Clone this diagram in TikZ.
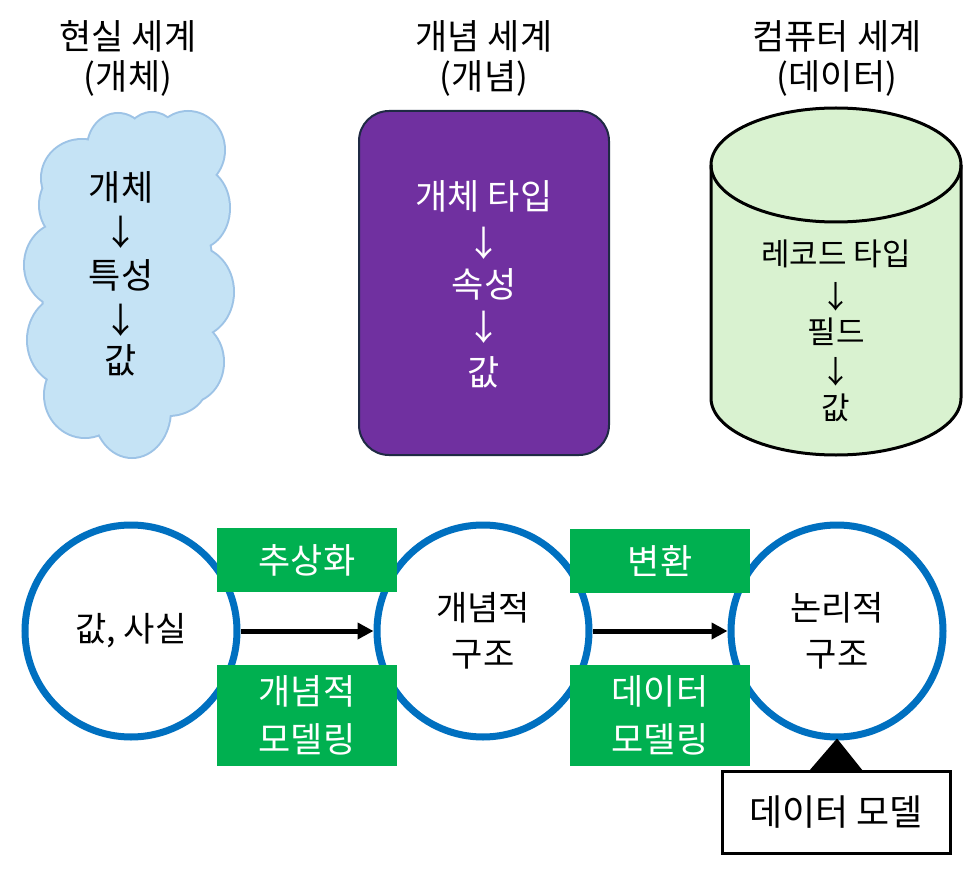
\documentclass[tikz,border=0pt]{standalone}
\usepackage{fontspec}
\setmainfont{Noto Sans CJK KR}
\usetikzlibrary{arrows.meta,calc}
\definecolor{cloudfill}{HTML}{C5E3F5}
\definecolor{cloudline}{HTML}{9DC3E6}
\definecolor{conceptfill}{HTML}{7030A0}
\definecolor{conceptline}{HTML}{1F2A44}
\definecolor{cylfill}{HTML}{D9F2D0}
\definecolor{ringblue}{HTML}{0070C0}
\definecolor{boxgreen}{HTML}{00B050}
\tikzset{
  title/.style={align=center,font=\fontsize{35}{40}\selectfont,inner sep=0},
  body/.style={font=\fontsize{35}{40}\selectfont,inner sep=0},
  cylbody/.style={font=\fontsize{31}{36}\selectfont,inner sep=0},
  ring/.style={circle,draw=ringblue,line width=7,fill=white,minimum size=212,inner sep=0,font=\fontsize{34}{46}\selectfont,align=center},
  gbox/.style={fill=boxgreen,text=white,minimum width=180,inner sep=0,align=center,font=\fontsize{35}{48}\selectfont},
  flow/.style={-{Triangle[length=16,width=16]},line width=5},
}
\newcommand{\cloudparts}{82/178/40/38,118/148/30/34,152/145/28/32,188/150/36/38,197/208/32/40,193/292/40/45,188/362/35/40,168/385/38/30,132/410/38/47,85/395/40/42,68/340/40/45,63/265/38/42,75/205/35/38,128/285/85/140}
\begin{document}
\begin{tikzpicture}[x=1pt,y=-1pt]
\useasboundingbox[fill=white] (0,0) rectangle (972,869);
% titles
\node[title] (t1) at (128,58) {현실 세계\\(개체)};
\node[title] (t2) at (484,58) {개념 세계\\(개념)};
\node[title] (t3) at (837,58) {컴퓨터 세계\\(데이터)};
% cloud
\foreach \cx/\cy/\rx/\ry in \cloudparts
  \draw[cloudline,line width=4] (\cx,\cy) ellipse[x radius=\rx,y radius=\ry];
\foreach \cx/\cy/\rx/\ry in \cloudparts
  \fill[cloudfill] (\cx,\cy) ellipse[x radius=\rx,y radius=\ry];
\node[body] (c1a) at (121,187) {개체};
\node[body] (c1b) at (121,232) {↓};
\node[body] (c1c) at (121,275) {특성};
\node[body] (c1d) at (121,320) {↓};
\node[body] (c1e) at (121,360) {값};
% concept box
\node[draw=conceptline,fill=conceptfill,line width=2,rounded corners=30,minimum width=250,minimum height=344,inner sep=0] (concept) at (484,283) {};
\node[body,text=white] (k1) at (484,196) {개체 타입};
\node[body,text=white] (k2) at (484,243) {↓};
\node[body,text=white] (k3) at (484,284) {속성};
\node[body,text=white] (k4) at (484,327) {↓};
\node[body,text=white] (k5) at (484,372) {값};
% cylinder
\coordinate (cyl) at (836,165);
\fill[cylfill] ($(cyl)+(-125,0)$) -- ($(cyl)+(-125,233)$) arc[start angle=180,end angle=360,x radius=125,y radius=-57] -- ($(cyl)+(125,0)$) -- cycle;
\fill[cylfill] (cyl) ellipse[x radius=125,y radius=57];
\draw[line width=3] ($(cyl)+(-125,0)$) -- ($(cyl)+(-125,233)$) arc[start angle=180,end angle=360,x radius=125,y radius=-57] -- ($(cyl)+(125,0)$);
\draw[line width=3] (cyl) ellipse[x radius=125,y radius=57];
\node[cylbody] (d1) at (836,254) {레코드 타입};
\node[cylbody] (d2) at (836,297) {↓};
\node[cylbody] (d3) at (836,332) {필드};
\node[cylbody] (d4) at (836,372) {↓};
\node[cylbody] (d5) at (836,408) {값};
% rings
\node[ring] (r1) at (131,631) {값, 사실};
\node[ring] (r2) at (483,631) {개념적\\구조};
\node[ring] (r3) at (837,631) {논리적\\구조};
% green boxes
\node[gbox,minimum height=64] (g1) at (307,560) {추상화};
\node[gbox,minimum height=101] (g2) at (307,715.5) {개념적\\모델링};
\node[gbox,minimum height=64] (g3) at (660,560.5) {변환};
\node[gbox,minimum height=101] (g4) at (660,715.5) {데이터\\모델링};
% arrows
\draw[flow] (r1.east) -- (r2.west);
\draw[flow] (r2.east) -- (r3.west);
% callout
\node[draw,line width=3,fill=white,minimum width=228,minimum height=82,inner sep=0,font=\fontsize{36}{40}\selectfont] (dm) at (836,812) {데이터 모델};
\fill ($(r3.south)+(0,-2)$) -- ($(dm.north)+(-27,1.5)$) -- ($(dm.north)+(27,1.5)$) -- cycle;
\end{tikzpicture}
\end{document}
